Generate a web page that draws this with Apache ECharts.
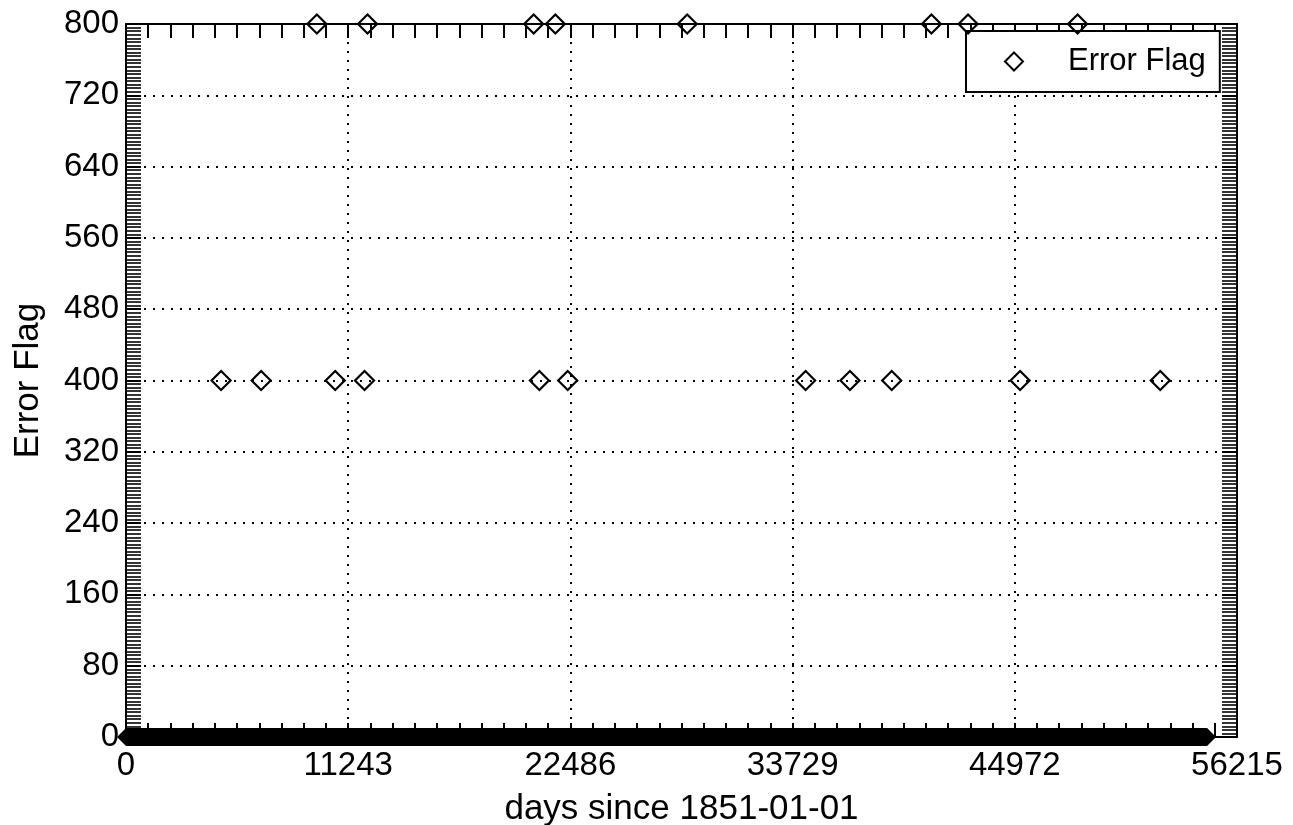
<!DOCTYPE html>
<html>
<head>
<meta charset="utf-8">
<script src="https://cdn.jsdelivr.net/npm/echarts@6/dist/echarts.min.js"></script>
<style>
html,body{margin:0;padding:0;background:#fff;}
#chart{width:1293px;height:825px;}
</style>
</head>
<body>
<div id="chart"></div>
<script>
// Days since 1851-01-01 where the error flag is 400
const flag400Days = [4811, 6837, 10585, 12068, 20916, 22349, 34387, 36631, 38743, 45240, 52331];
// Days where the error flag is 800
const flag800Days = [9658, 12220, 20627, 21726, 28396, 40753, 42607, 48147];
// Continuous run of days with flag 0 (one point per day, too dense to separate)
const zeroRunDays = [0, 54700];
const zeroRunValue = 0;

const xTicks = [0, 11243, 22486, 33729, 44972, 56215];
const yTicks = [0, 80, 160, 240, 320, 400, 480, 560, 640, 720, 800];

const xMin = xTicks[0], xMax = xTicks[xTicks.length - 1], xStep = xTicks[1] - xTicks[0];
const yMin = yTicks[0], yMax = yTicks[yTicks.length - 1], yStep = yTicks[1] - yTicks[0];

const flagPoints = flag400Days.map(d => [d, 400]).concat(flag800Days.map(d => [d, 800]));
const zeroPoints = zeroRunDays.map(d => [d, zeroRunValue]);

const FONT = '"Liberation Sans", Arial, Helvetica, sans-serif';

const chart = echarts.init(document.getElementById('chart'), null, {renderer: 'canvas'});

function xAx(pos, labels) {
  return {
    type: 'value', position: pos, min: xMin, max: xMax, interval: xStep,
    name: labels ? 'days since 1851-01-01' : '',
    nameLocation: 'middle', nameGap: 55,
    nameTextStyle: {fontFamily: FONT, fontSize: 35, color: '#000'},
    axisLine: {show: true, onZero: false, lineStyle: {color: '#000', width: 2}},
    axisTick: {show: true, inside: true, length: 14, lineStyle: {color: '#000', width: 2}},
    minorTick: {show: true, splitNumber: 10, length: 14, lineStyle: {color: '#000', width: 2}},
    axisLabel: {show: labels, margin: 12, color: '#000', fontFamily: FONT, fontSize: 33,
      formatter: v => String(v)},
    splitLine: {show: labels, lineStyle: {color: '#000', width: 2, type: [2, 7]}},
    minorSplitLine: {show: false}
  };
}
function yAx(pos, labels) {
  return {
    type: 'value', position: pos, min: yMin, max: yMax, interval: yStep,
    name: labels ? 'Error Flag' : '',
    nameLocation: 'middle', nameGap: 80,
    nameTextStyle: {fontFamily: FONT, fontSize: 35, color: '#000'},
    axisLine: {show: true, onZero: false, lineStyle: {color: '#000', width: 2}},
    axisTick: {show: true, inside: true, length: 15, lineStyle: {color: '#000', width: 2}},
    minorTick: {show: true, splitNumber: 20, length: 15, lineStyle: {color: '#000', width: 1.6}},
    axisLabel: {show: labels, margin: 7, color: '#000', fontFamily: FONT, fontSize: 33},
    splitLine: {show: labels, lineStyle: {color: '#000', width: 2, type: [2, 7]}},
    minorSplitLine: {show: false}
  };
}

chart.setOption({
  animation: false,
  backgroundColor: '#fff',
  grid: {left: 126, right: 56, top: 24, bottom: 88, containLabel: false, outerBoundsMode: 'none'},
  xAxis: [xAx('bottom', true), xAx('top', false)],
  yAxis: [yAx('left', true), yAx('right', false)],
  legend: {
    data: ['Error Flag'],
    left: 966, top: 31,
    backgroundColor: '#fff',
    borderColor: '#000', borderWidth: 2, borderRadius: 0,
    padding: [15, 14, 15, 38],
    itemWidth: 18, itemHeight: 18,
    textStyle: {fontFamily: FONT, fontSize: 31, color: '#000', padding: [0, 0, 0, 40]}
  },
  series: [
    {
      name: 'Error Flag zero run',
      type: 'line',
      data: zeroPoints,
      clip: false,
      z: 5,
      symbol: 'diamond', symbolSize: 18, showSymbol: true,
      itemStyle: {color: '#000', borderColor: '#000', borderWidth: 0},
      lineStyle: {color: '#000', width: 18, cap: 'butt'},
      silent: true
    },
    {
      name: 'Error Flag',
      type: 'scatter',
      data: flagPoints,
      clip: false,
      z: 6,
      symbol: 'diamond', symbolSize: 19,
      itemStyle: {color: 'rgba(255,255,255,0)', borderColor: '#000', borderWidth: 2.2, opacity: 1}
    }
  ]
});
</script>
</body>
</html>
